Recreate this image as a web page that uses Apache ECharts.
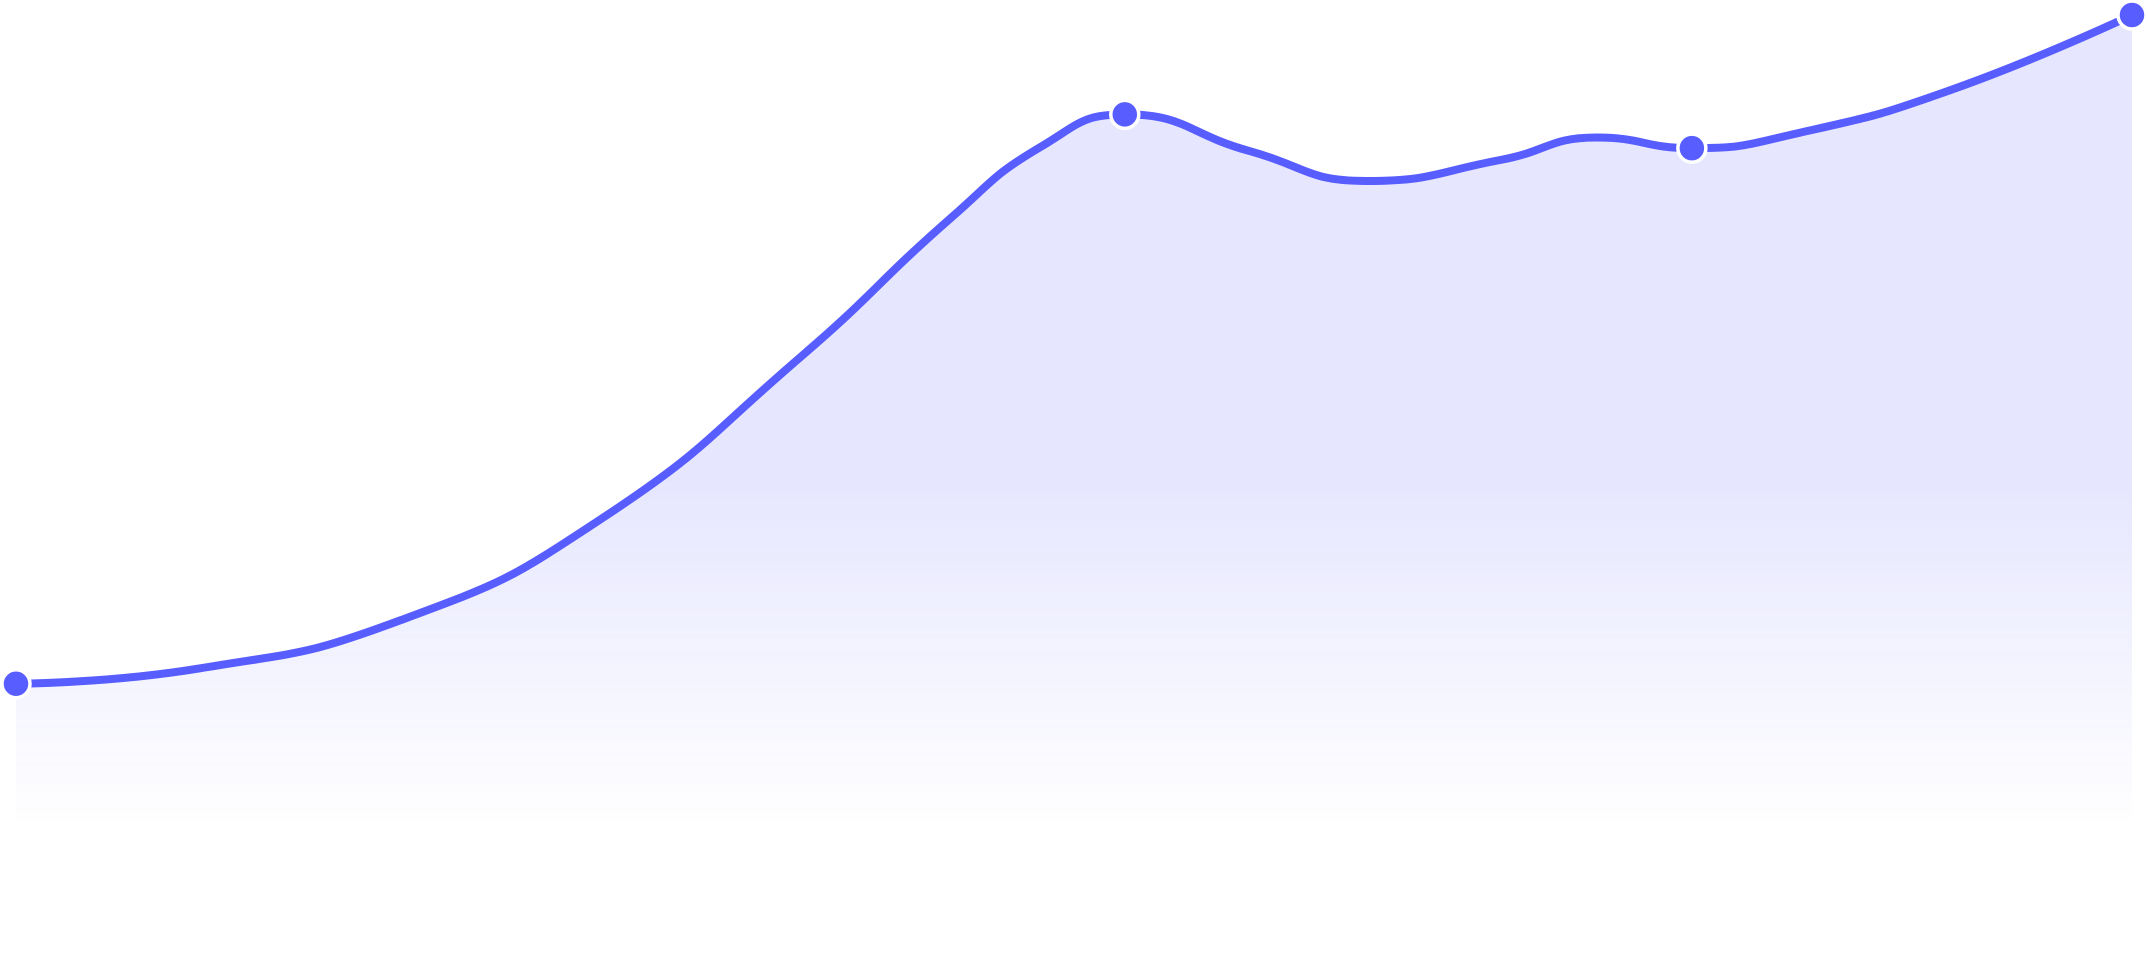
<!DOCTYPE html>
<html>
<head>
<meta charset="utf-8">
<script src="https://cdn.jsdelivr.net/npm/echarts@6/dist/echarts.min.js"></script>
<style>
  html, body { margin: 0; padding: 0; background: #fff; }
  #chart { width: 2148px; height: 980px; }
</style>
</head>
<body>
<div id="chart"></div>
<script>
// x positions along the period
const dayValues = [0, 8.7, 18.2, 27.6, 37.1, 44.2, 48.4, 52.4, 58.3, 63.8, 70.2, 74.7, 79.2, 84.3, 91.4, 100]
// curve values at those positions
const scoreValues = [30.7, 32.3, 37.3, 47.7, 64.6, 79.0, 86.3, 89.7, 85.9, 82.8, 85.0, 87.3, 86.2, 87.8, 92.2, 100]
// only these positions carry a visible marker
const markerDays = [0, 52.4, 79.2, 100]

const LINE_COLOR = '#585dff'

const seriesData = dayValues.map((day, i) => {
  const item = { value: [day, scoreValues[i]] }
  if (markerDays.includes(day)) {
    item.symbol = 'circle'
  }
  return item
})

const chart = echarts.init(document.getElementById('chart'), null, { devicePixelRatio: 2 })

chart.setOption({
  animation: false,
  grid: { left: 16, right: 16, top: 15, bottom: 0, containLabel: false },
  xAxis: {
    type: 'value',
    min: 0,
    max: 100,
    show: false
  },
  yAxis: {
    type: 'value',
    min: 0,
    max: 100,
    show: false
  },
  series: [
    {
      type: 'line',
      data: seriesData,
      smooth: 0.5,
      symbol: 'none',
      showSymbol: true,
      showAllSymbol: true,
      symbolSize: 28,
      clip: false,
      lineStyle: { color: LINE_COLOR, width: 8, cap: 'round', join: 'round' },
      itemStyle: { color: LINE_COLOR, borderColor: '#ffffff', borderWidth: 3.5 },
      areaStyle: {
        opacity: 1,
        color: new echarts.graphic.LinearGradient(0, 0, 0, 1, [
          { offset: 0, color: 'rgba(88, 93, 255, 0.15)' },
          { offset: 0.48, color: 'rgba(88, 93, 255, 0.15)' },
          { offset: 0.84, color: 'rgba(88, 93, 255, 0)' },
          { offset: 1, color: 'rgba(88, 93, 255, 0)' }
        ])
      },
      z: 2
    }
  ]
})
</script>
</body>
</html>
